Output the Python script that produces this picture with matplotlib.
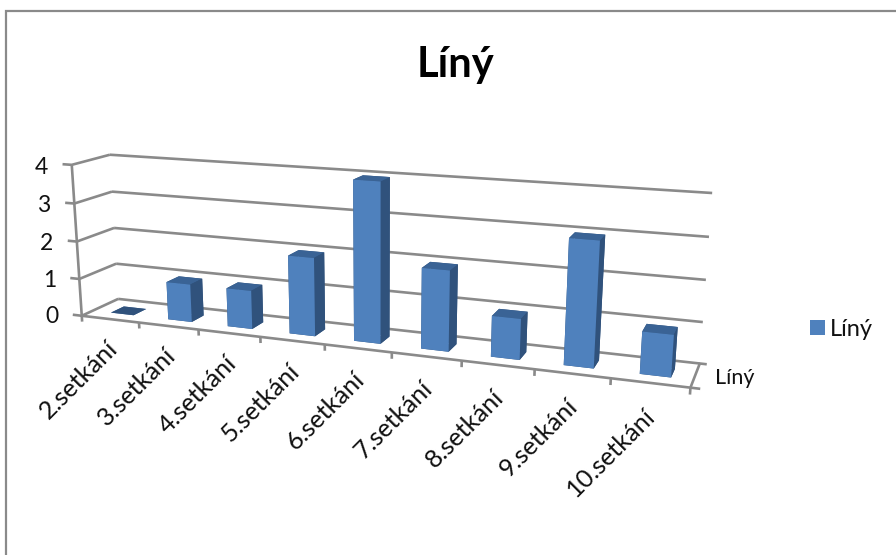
import numpy as np
import matplotlib
matplotlib.use("Agg")
import matplotlib.pyplot as plt
from matplotlib.lines import Line2D
from matplotlib.patches import Patch
from mpl_toolkits.mplot3d import Axes3D, proj3d

categories = ["2.setkání", "3.setkání", "4.setkání", "5.setkání", "6.setkání",
              "7.setkání", "8.setkání", "9.setkání", "10.setkání"]
values = [0, 1, 1, 2, 4, 2, 1, 3, 1]
value_ticks = [0, 1, 2, 3, 4]
series_name = "Líný"

W, H = 896, 555
FONT = "Lato"
GREY = "#8a8a8a"
INK = "#111111"
FRONT = "#4f81bd"
SIDE = "#30527c"
TOP = "#3a6395"
BAR_LEFT, BAR_WIDTH = 0.32, 0.40
BAR_NEAR, BAR_FAR = 0.30, 0.66

# camera calibration: (category pos, depth, value) -> pixel position on the sheet
n = len(categories)
calib = [
    ((0, 0, 0), (82, 315)), ((0, 0, 4), (72, 164)),
    ((0, 1, 0), (118, 299)), ((0, 1, 1), (117, 264)), ((0, 1, 2), (113, 228)),
    ((0, 1, 3), (112, 192)), ((0, 1, 4), (110, 155)),
    ((n, 1, 0), (700, 362)), ((n, 1, 1), (703, 322)), ((n, 1, 2), (706, 280)),
    ((n, 1, 3), (709, 237)), ((n, 1, 4), (712, 193)),
    ((n, 0, 0), (690, 388)), ((3, 0, 0), (260, 337)), ((6, 0, 0), (462, 362)),
]


def fit_camera(pairs):
    rows = []
    for (x, y, z), (u, v) in pairs:
        v = H - v
        rows.append([x, y, z, 1, 0, 0, 0, 0, -u * x, -u * y, -u * z, -u])
        rows.append([0, 0, 0, 0, x, y, z, 1, -v * x, -v * y, -v * z, -v])
    p = np.linalg.svd(np.array(rows, dtype=float))[2][-1].reshape(3, 4)
    return p / p[2, 3]


plt.rcParams["font.family"] = [FONT, "DejaVu Sans"]
fig = plt.figure(figsize=(W / 100, H / 100), dpi=100)

# square axes wider than the sheet, so the 3d box aspect leaves it alone
ax = fig.add_axes([0, -(W / H - 1) / 2, 1, W / H], projection="3d")
ax.set_axis_off()
ax.set_proj_type("ortho")
ax.computed_zorder = False
ax.set_xlim(0, n)
ax.set_ylim(0, 1)
ax.set_zlim(0, 4)
ax.apply_aspect()

cam = np.linalg.inv(ax.transData.get_matrix()) @ fit_camera(calib)
proj = np.array([cam[0], cam[1], [-0.1, 1, -0.02, 0], cam[2]])
ax.get_proj = lambda: proj


def line3(xs, ys, zs):
    ax.plot(xs, ys, zs, color=GREY, lw=1.9, solid_capstyle="butt", zorder=1)


def label3(x, y, z, s, **kw):
    # 3d text cannot take a free rotation, so place plain figure text at the projected spot
    vx, vy, _ = proj3d.proj_transform(x, y, z, proj)
    px, py = ax.transData.transform((vx, vy))
    fig.text(px / W, py / H, s, color=INK, **kw)


# walls and value ticks
for v in value_ticks:
    line3([0, n], [1, 1], [v, v])
    line3([-0.16, 0, 0], [0, 0, 1], [v, v, v])
    label3(-0.42, 0, v - 0.1, str(v), fontsize=16.5, ha="right", va="center")
line3([0, 0], [0, 0], [0, 4])

# floor edges and category ticks
line3([0, n + 0.12], [0, 0], [0, 0])
line3([n, n, n + 0.09], [0, 1, 1], [0, 0, 0])
for i in range(n + 1):
    line3([i, i], [0, 0], [0, -0.16])

for i, name in enumerate(categories):
    label3(i + 0.54, 0, -0.68, name, fontsize=18.2, rotation=45,
           ha="right", va="center", rotation_mode="anchor")
label3(n + 0.25, 0.5, 0, series_name, fontsize=15.5, ha="left", va="center")

# bars, faces in bar3d order: bottom, top, near, far, left, right
xpos = np.arange(n) + BAR_LEFT
face_colors = [c for _ in values for c in (SIDE, TOP, FRONT, SIDE, SIDE, SIDE)]
ax.bar3d(xpos, np.full(n, BAR_NEAR), np.zeros(n), BAR_WIDTH, BAR_FAR - BAR_NEAR, values,
         color=face_colors, shade=False, edgecolor="none", zorder=3)

fig.text(455 / W, 1 - 77 / H, series_name, fontsize=30, fontweight="bold", color="black",
         ha="center", va="baseline")

fig.legend(handles=[Patch(facecolor=FRONT, edgecolor="none", label=series_name)],
           loc="center left", bbox_to_anchor=(789 / W, 1 - 329 / H), frameon=False,
           fontsize=17, handlelength=0.62, handleheight=0.62, handletextpad=0.23,
           labelcolor=INK)

# chart frame, only top and left run inside the sheet
fig.add_artist(Line2D([6 / W, 6 / W, 1], [0, 1 - 10.5 / H, 1 - 10.5 / H], color=GREY, lw=1.6,
                      solid_joinstyle="miter"))

fig.savefig("out.png", dpi=100)
